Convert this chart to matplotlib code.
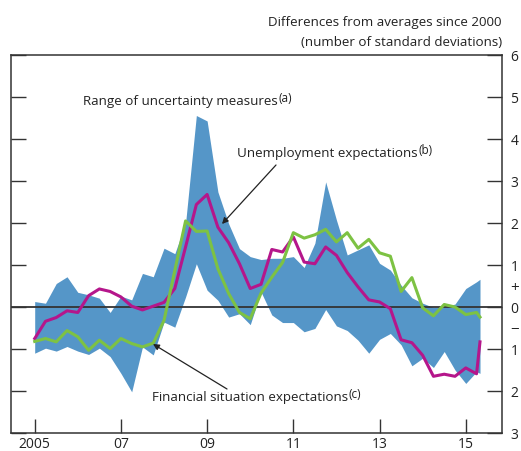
import matplotlib
matplotlib.use("Agg")
import matplotlib.pyplot as plt
import numpy as np

plt.rcParams['font.family'] = ['Open Sans', 'DejaVu Sans']

# quarterly observations from 2005 Q1, last one is a partial quarter
dates = list(2005 + 0.25 * np.arange(42)) + [2015.33]

band_upper = [0.13, 0.09, 0.56, 0.72, 0.35, 0.29, 0.21, -0.13, 0.26, 0.17,
              0.8, 0.72, 1.4, 1.27, 2.0, 4.56, 4.43, 2.74, 1.98, 1.39,
              1.2, 1.13, 1.16, 1.16, 1.2, 0.94, 1.52, 2.98, 2.07, 1.24,
              1.36, 1.48, 1.04, 0.88, 0.52, 0.22, 0.09, -0.01, 0.01, 0.07,
              0.44, 0.6, 0.66]
band_lower = [-1.1, -0.98, -1.05, -0.94, -1.05, -1.13, -0.98, -1.18, -1.58, -2.02,
              -0.95, -1.14, -0.36, -0.48, 0.24, 1.03, 0.4, 0.16, -0.24, -0.16,
              -0.42, 0.36, -0.19, -0.37, -0.37, -0.59, -0.51, -0.06, -0.45, -0.56,
              -0.79, -1.1, -0.77, -0.63, -0.9, -1.4, -1.22, -1.44, -1.06, -1.5,
              -1.82, -1.54, -1.58]
unemployment = [-0.75, -0.34, -0.25, -0.09, -0.13, 0.27, 0.43, 0.37, 0.24, 0.02,
                -0.07, 0.02, 0.11, 0.44, 1.43, 2.44, 2.68, 1.9, 1.53, 1.03,
                0.44, 0.54, 1.37, 1.31, 1.67, 1.07, 1.03, 1.43, 1.23, 0.82,
                0.48, 0.17, 0.12, -0.04, -0.78, -0.85, -1.15, -1.65, -1.6, -1.65,
                -1.45, -1.59, -0.83]
financial = [-0.82, -0.75, -0.83, -0.56, -0.71, -1.03, -0.79, -0.99, -0.75, -0.87,
             -0.95, -0.86, -0.32, 0.87, 2.05, 1.8, 1.81, 0.91, 0.32, -0.13,
             -0.28, 0.33, 0.71, 1.06, 1.77, 1.64, 1.72, 1.85, 1.55, 1.77,
             1.4, 1.61, 1.29, 1.21, 0.37, 0.7, -0.02, -0.21, 0.06, 0.0,
             -0.18, -0.13, -0.24]

xticks = [2005, 2007, 2009, 2011, 2013, 2015]
xticklabels = ['2005', '07', '09', '11', '13', '15']
yticks = [-3, -2, -1, 0, 1, 2, 3, 4, 5, 6]
yticklabels = ['3', '2', '1', '0', '1', '2', '3', '4', '5', '6']

blue = '#5596c8'
magenta = '#b5168b'
green = '#7dc243'
dark = '#333333'
txt = '#222222'

fig = plt.figure(figsize=(5.21, 4.51), dpi=100)
ax = fig.add_axes([0.0211, 0.0399, 0.9424, 0.8381])

ax.fill_between(dates, band_lower, band_upper, color=blue, lw=0, zorder=1)
ax.axhline(0, color=dark, lw=1.3, zorder=2)
ax.plot(dates, unemployment, color=magenta, lw=2.2, zorder=3)
ax.plot(dates, financial, color=green, lw=2.2, zorder=3)

ax.set_xlim(2004.45, 2015.84)
ax.set_ylim(-3, 6)

ax.set_xticks(xticks, labels=xticklabels)
ax.set_yticks(yticks, labels=yticklabels)
ax.set_yticks([0.5, -0.5], labels=['+', '\u2212'], minor=True)
ax.tick_params(axis='y', which='major', left=True, right=True, labelleft=False,
               labelright=True, direction='in', length=11, width=1, color=dark,
               pad=6, labelsize=10, labelcolor=txt)
ax.tick_params(axis='y', which='minor', left=False, right=True, labelleft=False,
               labelright=True, length=0, pad=6, labelsize=11, labelcolor=txt)
ax.tick_params(axis='x', direction='in', length=10, width=1, color=dark, pad=3,
               labelsize=10, labelcolor=txt)
for s in ax.spines.values():
    s.set_color(dark)
    s.set_linewidth(1.1)

fig.text(0.9635, 0.951, 'Differences from averages since 2000', ha='right', va='center',
         fontsize=9.6, color=txt)
fig.text(0.9635, 0.905, '(number of standard deviations)', ha='right', va='center',
         fontsize=9.6, color=txt)

# series labels (figure pixels) with their footnote marks
notes = [('Range of uncertainty measures', '(a)', 83, 451 - 101),
         ('Unemployment expectations', '(b)', 237, 451 - 153),
         ('Financial situation expectations', '(c)', 152, 451 - 398)]
texts = []
for label, note, x, y in notes:
    t = fig.text(x, y, label, ha='left', va='center', fontsize=9.6, color=txt,
                 transform=None)
    texts.append((t, note))

arrow = dict(arrowstyle='-|>', color=txt, lw=0.9, shrinkA=0, shrinkB=0, mutation_scale=9)
ax.annotate('', xy=(222, 451 - 224), xycoords='figure pixels',
            xytext=(276, 451 - 165), textcoords='figure pixels', arrowprops=arrow)
ax.annotate('', xy=(153, 451 - 344), xycoords='figure pixels',
            xytext=(227, 451 - 389), textcoords='figure pixels', arrowprops=arrow)

fig.canvas.draw()
r = fig.canvas.get_renderer()
for t, note in texts:
    bb = t.get_window_extent(r)
    fig.text(bb.x1 + 0.5, bb.y1 + 3, note, ha='left', va='top', fontsize=8.5,
             color=txt, transform=None)

fig.savefig('out.png', dpi=100)
